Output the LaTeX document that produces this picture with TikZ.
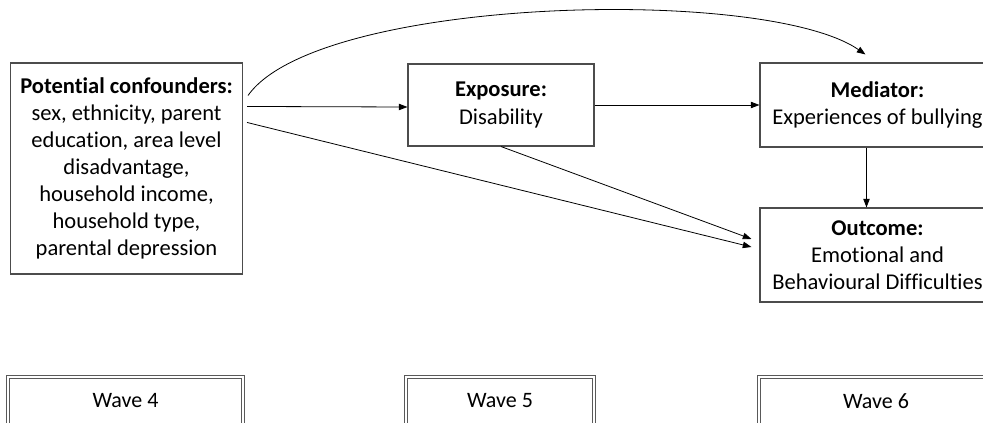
\documentclass[tikz,border=0pt]{standalone}
\usepackage{fontspec}
\setmainfont{Carlito}[Ligatures=NoCommon]
\usetikzlibrary{arrows.meta,calc}

\begin{document}
\begin{tikzpicture}[x=0.75pt,y=-0.75pt,
  main node/.style={rectangle,draw=black!70,line width=0.8pt,align=center,inner sep=2pt,font=\fontsize{16.9}{20.3}\selectfont},
  wave node/.style={rectangle,draw=black!65,line width=0.9pt,double=white,double distance=1.1pt,font=\fontsize{16.5}{20}\selectfont},
  arr/.style={-{Triangle[length=6.5pt,width=4.8pt]},line width=0.6pt}]
  \clip (0,0) rectangle (983,422);

  \node[main node,minimum width=174pt,minimum height=158.25pt] (conf) at (126.5,168.5)
    {\textbf{Potential confounders:}\\sex, ethnicity, parent\\education, area level\\disadvantage,\\household income,\\household type,\\parental depression};
  \node[main node,minimum width=139.5pt,minimum height=61.5pt] (exp) at (501,105) {\textbf{Exposure:}\\Disability};
  \node[main node,minimum width=176.25pt,minimum height=63pt] (med) at (877.5,105) {\textbf{Mediator:}\\Experiences of bullying};
  \node[main node,minimum width=176.25pt,minimum height=70.5pt] (out) at (877.5,255) {\textbf{Outcome:}\\Emotional and\\Behavioural Difficulties};

  \node[wave node,minimum width=176.25pt,minimum height=36pt] (w4) at (125.5,401) {Wave 4};
  \node[wave node,minimum width=141pt,minimum height=36pt] (w5) at (500,401) {Wave 5};
  \node[wave node,minimum width=175.5pt,minimum height=36pt] (w6) at (876,401) {Wave 6};

  \path
   ($(conf.north east)+(4,44)$) edge [arr] ($(exp.west)+(0,2)$)
   (exp.east) edge [arr] (med.west)
   ($(conf.north east)+(4,60)$) edge [arr] ($(out.west)+(-8,-8)$)
   (exp.south) edge [arr] ($(out.west)+(-8,-16)$)
   ($(med.south)+(-11,0)$) edge [arr] ($(out.north)+(-11,0)$);
  \draw[arr] ($(conf.north east)+(5,33)$) .. controls +(70,-99) and +(-100,-69) .. ($(med.north)+(-12,-8)$);
\end{tikzpicture}
\end{document}
